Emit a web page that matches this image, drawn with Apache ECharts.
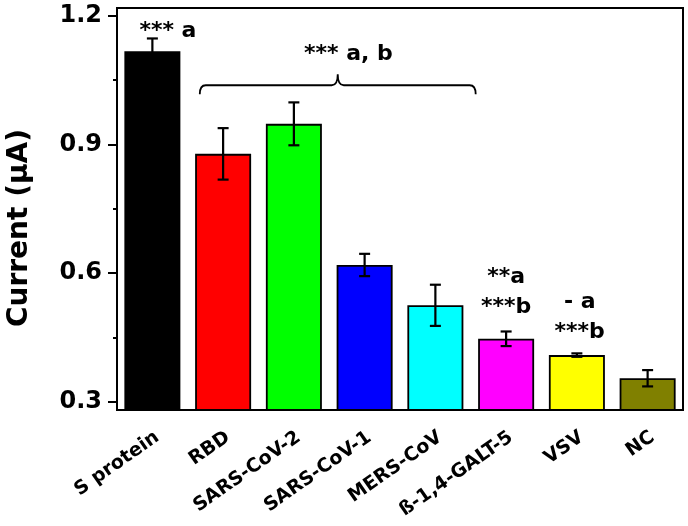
<!DOCTYPE html>
<html><head><meta charset="utf-8">
<script src="https://cdn.jsdelivr.net/npm/echarts@6/dist/echarts.min.js"></script>
<style>html,body{margin:0;padding:0;background:#fff}#c{width:688px;height:526px}</style>
</head><body><div id="c"></div>
<script>
const categories = ['S protein','RBD','SARS-CoV-2','SARS-CoV-1','MERS-CoV','ß-1,4-GALT-5','VSV','NC'];
const currentValues = [1.117, 0.878, 0.948, 0.619, 0.525, 0.447, 0.409, 0.355];
const errorValues = [0.03, 0.06, 0.05, 0.026, 0.048, 0.017, 0.004, 0.019];
const barColors = ['#000000','#ff0000','#00ff00','#0000ff','#00ffff','#ff00ff','#ffff00','#808000'];
const yTickLabels = [0.3, 0.6, 0.9, 1.2];
const yMinorTicks = [0.45, 0.75, 1.05];
const annotationX = [0.22, 2.77, 5.0, 5.0, 6.04, 6.04];
const annotationY = [1.163, 1.110, 0.591, 0.520, 0.531, 0.462];
const annotationText = ['*** a', '*** a, b', '**a', '***b', '- a', '***b'];
const braceRange = [0.67, 4.57, 1.038];

const FONT = 'DejaVu Sans';
const chart = echarts.init(document.getElementById('c'));
const yMin = 0.281, yMax = 1.218;

chart.setOption({
  animation: false,
  backgroundColor: '#fff',
  grid: {left: 117, right: 5, top: 8, bottom: 116, show: true, borderColor: '#000', borderWidth: 2, backgroundColor: 'transparent'},
  graphic: [{
    type: 'text', x: 20, y: 228, rotation: Math.PI / 2,
    style: {text: 'Current (µA)', fill: '#000', font: 'bold 28px "' + FONT + '"', align: 'center', verticalAlign: 'middle'}
  }],
  xAxis: [{
    type: 'category', data: categories,
    axisLine: {onZero: false, lineStyle: {color: '#000', width: 2}},
    axisTick: {alignWithLabel: true, length: 8, lineStyle: {color: '#000', width: 2}},
    axisLabel: {rotate: 35, interval: 0, margin: 29, padding: [0, -6, 0, 0], color: '#000', fontFamily: FONT, fontWeight: 'bold', fontSize: 19}
  }, {
    type: 'value', min: -0.5, max: 7.5, show: false, axisLine: {onZero: false}
  }],
  yAxis: [{
    type: 'value', min: yMin, max: yMax,
    axisLine: {show: true, onZero: false, lineStyle: {color: '#000', width: 2}},
    axisTick: {show: false},
    axisLabel: {customValues: yTickLabels, formatter: v => v.toFixed(1), margin: 15, color: '#000', fontFamily: FONT, fontWeight: 'bold', fontSize: 24},
    splitLine: {show: false}
  }, {
    type: 'value', min: yMin, max: yMax, position: 'left',
    axisLine: {show: false, onZero: false},
    axisTick: {show: true, customValues: yMinorTicks, length: 4, lineStyle: {color: '#000', width: 2}},
    axisLabel: {show: false}, splitLine: {show: false}
  }, {
    type: 'value', min: yMin, max: yMax, position: 'left',
    axisLine: {show: false, onZero: false},
    axisTick: {show: true, customValues: yTickLabels, length: 9, lineStyle: {color: '#000', width: 2}},
    axisLabel: {show: false}, splitLine: {show: false}
  }],
  series: [{
    type: 'bar', barWidth: 56,
    data: currentValues.map((v, i) => ({value: v, itemStyle: {color: barColors[i], borderColor: '#000', borderWidth: 1.8}}))
  }, {
    type: 'custom', z: 5,
    data: currentValues.map((v, i) => [i, v - errorValues[i], v + errorValues[i]]),
    renderItem: (params, api) => {
      const lo = api.coord([api.value(0), api.value(1)]);
      const hi = api.coord([api.value(0), api.value(2)]);
      const cw = 5.5;
      const st = {stroke: '#000', lineWidth: 2.2};
      return {type: 'group', children: [
        {type: 'line', shape: {x1: hi[0], y1: hi[1], x2: lo[0], y2: lo[1]}, style: st},
        {type: 'line', shape: {x1: hi[0]-cw, y1: hi[1], x2: hi[0]+cw, y2: hi[1]}, style: st},
        {type: 'line', shape: {x1: lo[0]-cw, y1: lo[1], x2: lo[0]+cw, y2: lo[1]}, style: st}
      ]};
    }
  }, {
    type: 'custom', z: 6, xAxisIndex: 1,
    data: annotationX.map((x, i) => [x, annotationY[i], i]),
    renderItem: (params, api) => {
      const p = api.coord([api.value(0), api.value(1)]);
      return {type: 'text', x: p[0], y: p[1], style: {text: annotationText[api.value(2)], fill: '#000', font: 'bold 22px "' + FONT + '"', align: 'center', verticalAlign: 'middle'}};
    }
  }, {
    type: 'custom', z: 6, xAxisIndex: 1,
    data: [braceRange],
    renderItem: (params, api) => {
      const a = api.coord([api.value(0), api.value(2)]);
      const b = api.coord([api.value(1), api.value(2)]);
      const y = a[1], x1 = a[0], x2 = b[0], xm = (x1 + x2) / 2;
      const down = 9, up = 11, r = 6;
      const d = `M${x1},${y+down} Q${x1},${y} ${x1+r},${y} L${xm-r},${y} Q${xm},${y} ${xm},${y-up} Q${xm},${y} ${xm+r},${y} L${x2-r},${y} Q${x2},${y} ${x2},${y+down}`;
      return {type: 'path', shape: {pathData: d}, style: {stroke: '#000', lineWidth: 1.8, fill: null}};
    }
  }]
});
</script></body></html>
